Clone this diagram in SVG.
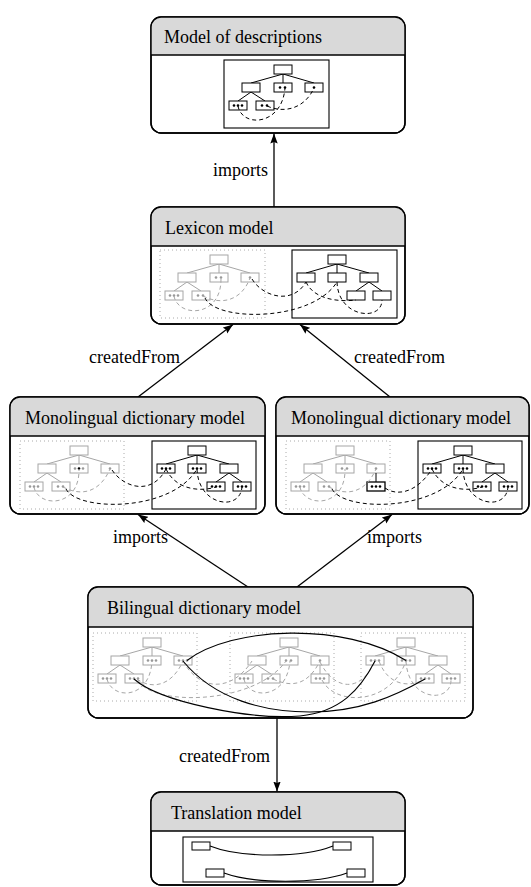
<svg xmlns="http://www.w3.org/2000/svg" xmlns:xlink="http://www.w3.org/1999/xlink" width="531" height="887" viewBox="0 0 531 887">
<style>
.nb{fill:#fff;stroke:#000;stroke-width:1.4}
.hd{fill:#d9d9d9;stroke:none}
.hl{fill:none;stroke:#000;stroke-width:1.3}
.no{fill:none;stroke:#000;stroke-width:1.4}
.ttl,.lbl{font-family:"Liberation Serif","Times New Roman",serif;font-size:18px;fill:#000}
.tg{stroke:#a6a6a6;stroke-width:1;fill:none}
.tb{stroke:#000;stroke-width:1;fill:none}
.dotbox{fill:none;stroke:#aaa;stroke-width:1;stroke-dasharray:1,3}
.solbox{fill:none;stroke:#000;stroke-width:1.1}
.gd{fill:none;stroke:#a6a6a6;stroke-width:1;stroke-dasharray:4,3}
.bd{fill:none;stroke:#000;stroke-width:1;stroke-dasharray:4,3}
.bs{fill:none;stroke:#000;stroke-width:1.1}
.dg{fill:#999}
.dk{fill:#000}
.edge{fill:none;stroke:#000;stroke-width:1.3}
</style>
<defs>
<marker id="ah" viewBox="0 0 10 8" refX="10" refY="4" markerWidth="10" markerHeight="8" markerUnits="userSpaceOnUse" orient="auto">
<path d="M0,0.3 L10,4 L0,7.7 L1.5,4 Z" fill="#000"/>
</marker>
<g id="T1">
<path d="M59,14 L27,23 M59,14 V23 M59,14 L90,23 M27,32 L14,41 M27,32 L41,41"/>
<rect x="50" y="5" width="18" height="9" fill="#fff"/>
<rect x="18" y="23" width="18" height="9" fill="#fff"/>
<rect x="50" y="23" width="18" height="9" fill="#fff"/>
<rect x="81" y="23" width="18" height="9" fill="#fff"/>
<rect x="5" y="41" width="18" height="9" fill="#fff"/>
<rect x="32" y="41" width="18" height="9" fill="#fff"/>
</g>
<g id="T2">
<path d="M45,14 L14,23 M45,14 V23 M45,14 L77,23 M77,32 L64,41 M77,32 L90,41"/>
<rect x="36" y="5" width="18" height="9" fill="#fff"/>
<rect x="5" y="23" width="18" height="9" fill="#fff"/>
<rect x="36" y="23" width="18" height="9" fill="#fff"/>
<rect x="68" y="23" width="18" height="9" fill="#fff"/>
<rect x="55" y="41" width="18" height="9" fill="#fff"/>
<rect x="81" y="41" width="18" height="9" fill="#fff"/>
</g>
</defs>

<g id="connectors">
<line class="edge" x1="274" y1="207" x2="274" y2="133.5" marker-end="url(#ah)"/>
<line class="edge" x1="138" y1="397" x2="233" y2="324.5" marker-end="url(#ah)"/>
<line class="edge" x1="390" y1="397" x2="300" y2="324.5" marker-end="url(#ah)"/>
<line class="edge" x1="248" y1="587" x2="138" y2="514.5" marker-end="url(#ah)"/>
<line class="edge" x1="297" y1="587" x2="392" y2="514.5" marker-end="url(#ah)"/>
<line class="edge" x1="277" y1="718" x2="277" y2="791.5" marker-end="url(#ah)"/>
<text class="lbl" x="268" y="176" text-anchor="end">imports</text>
<text class="lbl" x="180" y="363" text-anchor="end">createdFrom</text>
<text class="lbl" x="354" y="363">createdFrom</text>
<text class="lbl" x="168" y="543" text-anchor="end">imports</text>
<text class="lbl" x="367" y="543">imports</text>
<text class="lbl" x="270" y="762" text-anchor="end">createdFrom</text>
</g>

<g id="model-of-descriptions">
<rect class="nb" x="151" y="17" width="254" height="116" rx="10"/>
<path class="hd" d="M151,55 V27 A10,10 0 0 1 161,17 H395 A10,10 0 0 1 405,27 V55 Z"/>
<path class="hl" d="M151,55 H405"/>
<rect class="no" x="151" y="17" width="254" height="116" rx="10"/>
<text class="ttl" x="164" y="43">Model of descriptions</text>
<rect class="solbox" x="224" y="60" width="105" height="68"/>
<use xlink:href="#T1" href="#T1" x="224" y="60" class="tb"/>
<circle class="dk" cx="280" cy="87.5" r="1.3"/><circle class="dk" cx="285" cy="87.5" r="1.3"/>
<circle class="dk" cx="314" cy="87.5" r="1.3"/>
<circle class="dk" cx="234" cy="105.5" r="1.3"/><circle class="dk" cx="238" cy="105.5" r="1.3"/><circle class="dk" cx="242" cy="105.5" r="1.3"/>
<circle class="dk" cx="262" cy="105.5" r="1.3"/><circle class="dk" cx="267" cy="105.5" r="1.3"/>
<path class="bd" d="M238,106 C242,128 282,126 285,88"/>
<path class="bd" d="M267,106 C285,114 305,108 314,88"/>
</g>

<g id="lexicon-model">
<rect class="nb" x="151" y="207" width="254" height="117" rx="10"/>
<path class="hd" d="M151,246 V217 A10,10 0 0 1 161,207 H395 A10,10 0 0 1 405,217 V246 Z"/>
<path class="hl" d="M151,246 H405"/>
<rect class="no" x="151" y="207" width="254" height="117" rx="10"/>
<text class="ttl" x="165" y="234">Lexicon model</text>
<rect class="dotbox" x="160" y="250" width="105" height="68"/>
<rect class="solbox" x="292" y="250" width="105" height="68"/>
<use xlink:href="#T1" href="#T1" x="160" y="250" class="tg"/>
<use xlink:href="#T2" href="#T2" x="292" y="250" class="tb"/>
<circle class="dg" cx="216" cy="277.5" r="1.3"/><circle class="dg" cx="221" cy="277.5" r="1.3"/>
<circle class="dg" cx="250" cy="277.5" r="1.3"/>
<circle class="dg" cx="170" cy="295.5" r="1.3"/><circle class="dg" cx="174" cy="295.5" r="1.3"/><circle class="dg" cx="178" cy="295.5" r="1.3"/>
<circle class="dg" cx="198" cy="295.5" r="1.3"/><circle class="dg" cx="203" cy="295.5" r="1.3"/>
<path class="gd" d="M174,296 C178,318 222,318 221,278"/>
<path class="gd" d="M203,296 C222,306 242,300 250,278"/>
<path class="bd" d="M252,279 C262,296 292,306 306,282"/>
<path class="bd" d="M205,298 C216,322 312,322 337,282"/>
<path class="bd" d="M306,282 C314,300 340,302 356,300"/>
<path class="bd" d="M337,282 C338,318 382,322 382,300"/>
</g>

<g id="monolingual-left">
<rect class="nb" x="10" y="397" width="255" height="117" rx="10"/>
<path class="hd" d="M10,436 V407 A10,10 0 0 1 20,397 H255 A10,10 0 0 1 265,407 V436 Z"/>
<path class="hl" d="M10,436 H265"/>
<rect class="no" x="10" y="397" width="255" height="117" rx="10"/>
<text class="ttl" x="25" y="424">Monolingual dictionary model</text>
<rect class="dotbox" x="20" y="441" width="104" height="68"/>
<rect class="solbox" x="152" y="441" width="104" height="68"/>
<use xlink:href="#T1" href="#T1" x="20" y="441" class="tg"/>
<use xlink:href="#T2" href="#T2" x="152" y="441" class="tb"/>
<circle class="dg" cx="75" cy="468.5" r="1.3"/><circle class="dk" cx="79" cy="468.5" r="1.3"/><circle class="dg" cx="83" cy="468.5" r="1.3"/>
<circle class="dg" cx="110" cy="468.5" r="1.3"/>
<circle class="dg" cx="30" cy="486.5" r="1.3"/><circle class="dg" cx="34" cy="486.5" r="1.3"/><circle class="dg" cx="38" cy="486.5" r="1.3"/>
<circle class="dg" cx="58" cy="486.5" r="1.3"/><circle class="dg" cx="63" cy="486.5" r="1.3"/>
<circle class="dk" cx="162" cy="468.5" r="1.3"/><circle class="dk" cx="166" cy="468.5" r="1.3"/><circle class="dk" cx="170" cy="468.5" r="1.3"/>
<circle class="dk" cx="193" cy="468.5" r="1.3"/><circle class="dk" cx="197" cy="468.5" r="1.3"/><circle class="dk" cx="201" cy="468.5" r="1.3"/>
<circle class="dk" cx="212" cy="486.5" r="1.3"/><circle class="dk" cx="216" cy="486.5" r="1.3"/><circle class="dk" cx="220" cy="486.5" r="1.3"/>
<circle class="dk" cx="238" cy="486.5" r="1.3"/><circle class="dk" cx="242" cy="486.5" r="1.3"/><circle class="dk" cx="246" cy="486.5" r="1.3"/>
<path class="gd" d="M34,487 C38,508 80,508 79,469"/>
<path class="gd" d="M63,487 C82,497 100,492 110,469"/>
<path class="bd" d="M112,470 C124,488 152,496 166,469"/>
<path class="bd" d="M66,489 C78,512 172,512 197,469"/>
<path class="bd" d="M166,469 C176,490 200,492 216,487"/>
<path class="bd" d="M197,469 C198,506 240,512 242,487"/>
</g>

<g id="monolingual-right">
<rect class="nb" x="276" y="397" width="253" height="117" rx="10"/>
<path class="hd" d="M276,436 V407 A10,10 0 0 1 286,397 H519 A10,10 0 0 1 529,407 V436 Z"/>
<path class="hl" d="M276,436 H529"/>
<rect class="no" x="276" y="397" width="253" height="117" rx="10"/>
<text class="ttl" x="291" y="424">Monolingual dictionary model</text>
<g transform="translate(266,0)">
<rect class="dotbox" x="20" y="441" width="104" height="68"/>
<rect class="solbox" x="152" y="441" width="104" height="68"/>
<use xlink:href="#T1" href="#T1" x="20" y="441" class="tg"/>
<use xlink:href="#T2" href="#T2" x="152" y="441" class="tb"/>
<path class="tb" d="M110,473 V482"/>
<rect x="101" y="482" width="18" height="9" fill="#fff" stroke="#000" stroke-width="1.3"/>
<circle class="dk" cx="106" cy="486.5" r="1.3"/><circle class="dk" cx="110" cy="486.5" r="1.3"/><circle class="dk" cx="114" cy="486.5" r="1.3"/>
<circle class="dg" cx="76" cy="468.5" r="1.3"/><circle class="dg" cx="81" cy="468.5" r="1.3"/>
<circle class="dg" cx="110" cy="468.5" r="1.3"/>
<circle class="dg" cx="30" cy="486.5" r="1.3"/><circle class="dg" cx="34" cy="486.5" r="1.3"/><circle class="dg" cx="38" cy="486.5" r="1.3"/>
<circle class="dg" cx="58" cy="486.5" r="1.3"/><circle class="dg" cx="63" cy="486.5" r="1.3"/>
<circle class="dk" cx="162" cy="468.5" r="1.3"/><circle class="dk" cx="166" cy="468.5" r="1.3"/><circle class="dk" cx="170" cy="468.5" r="1.3"/>
<circle class="dk" cx="193" cy="468.5" r="1.3"/><circle class="dk" cx="197" cy="468.5" r="1.3"/><circle class="dk" cx="201" cy="468.5" r="1.3"/>
<circle class="dk" cx="212" cy="486.5" r="1.3"/><circle class="dk" cx="216" cy="486.5" r="1.3"/><circle class="dk" cx="220" cy="486.5" r="1.3"/>
<circle class="dk" cx="238" cy="486.5" r="1.3"/><circle class="dk" cx="242" cy="486.5" r="1.3"/><circle class="dk" cx="246" cy="486.5" r="1.3"/>
<path class="gd" d="M34,487 C38,508 80,508 79,469"/>
<path class="gd" d="M63,487 C82,497 100,492 110,469"/>
<path class="bd" d="M119,488 C130,496 150,494 166,469"/>
<path class="bd" d="M66,489 C78,512 172,512 197,469"/>
<path class="bd" d="M166,469 C176,490 200,492 216,487"/>
<path class="bd" d="M197,469 C198,506 240,512 242,487"/>
</g>
</g>

<g id="bilingual-dictionary-model">
<rect class="nb" x="88" y="587" width="385" height="131" rx="10"/>
<path class="hd" d="M88,627 V597 A10,10 0 0 1 98,587 H463 A10,10 0 0 1 473,597 V627 Z"/>
<path class="hl" d="M88,627 H473"/>
<rect class="no" x="88" y="587" width="385" height="131" rx="10"/>
<text class="ttl" x="107" y="614">Bilingual dictionary model</text>
<rect class="dotbox" x="93" y="633" width="104" height="68"/>
<rect class="dotbox" x="230" y="633" width="104" height="68"/>
<rect class="dotbox" x="361" y="633" width="104" height="68"/>
<use xlink:href="#T1" href="#T1" x="93" y="633" class="tg"/>
<use xlink:href="#T1" href="#T1" x="230" y="633" class="tg"/>
<path class="tg" d="M320,665 V674"/>
<rect x="311" y="674" width="18" height="9" fill="#fff" stroke="#a6a6a6"/>
<use xlink:href="#T2" href="#T2" x="361" y="633" class="tg"/>
<g class="dg">
<circle cx="148" cy="660.5" r="1.3"/><circle cx="152" cy="660.5" r="1.3"/><circle cx="156" cy="660.5" r="1.3"/>
<circle cx="179" cy="660.5" r="1.3"/><circle cx="183" cy="660.5" r="1.3"/><circle cx="187" cy="660.5" r="1.3"/>
<circle cx="103" cy="678.5" r="1.3"/><circle cx="107" cy="678.5" r="1.3"/><circle cx="111" cy="678.5" r="1.3"/>
<circle cx="130" cy="678.5" r="1.3"/><circle cx="134" cy="678.5" r="1.3"/><circle cx="138" cy="678.5" r="1.3"/>
<circle cx="286" cy="660.5" r="1.3"/><circle cx="291" cy="660.5" r="1.3"/>
<circle cx="320" cy="660.5" r="1.3"/>
<circle cx="240" cy="678.5" r="1.3"/><circle cx="244" cy="678.5" r="1.3"/><circle cx="248" cy="678.5" r="1.3"/>
<circle cx="268" cy="678.5" r="1.3"/><circle cx="273" cy="678.5" r="1.3"/>
<circle cx="316" cy="678.5" r="1.3"/><circle cx="320" cy="678.5" r="1.3"/><circle cx="324" cy="678.5" r="1.3"/>
<circle cx="371" cy="660.5" r="1.3"/><circle cx="375" cy="660.5" r="1.3"/><circle cx="379" cy="660.5" r="1.3"/>
<circle cx="402" cy="660.5" r="1.3"/><circle cx="406" cy="660.5" r="1.3"/><circle cx="410" cy="660.5" r="1.3"/>
<circle cx="421" cy="678.5" r="1.3"/><circle cx="425" cy="678.5" r="1.3"/><circle cx="429" cy="678.5" r="1.3"/>
<circle cx="447" cy="678.5" r="1.3"/><circle cx="451" cy="678.5" r="1.3"/><circle cx="455" cy="678.5" r="1.3"/>
</g>
<path class="gd" d="M107,679 C112,700 150,700 152,661"/>
<path class="gd" d="M137,679 C152,690 172,686 183,661"/>
<path class="gd" d="M183,661 C200,692 232,692 252,661"/>
<path class="gd" d="M138,680 C150,706 254,706 286,661"/>
<path class="gd" d="M244,679 C248,700 287,700 290,661"/>
<path class="gd" d="M273,679 C292,688 308,685 320,661"/>
<path class="gd" d="M320,662 C335,692 362,692 375,661"/>
<path class="gd" d="M322,680 C335,706 390,706 406,661"/>
<path class="gd" d="M379,661 C388,686 410,688 425,679"/>
<path class="gd" d="M406,661 C408,702 452,704 451,679"/>
<path class="bs" d="M187,660.5 C232,626 345,622 406,660.5"/>
<path class="bs" d="M183,661 C215,700 265,712 310,712 C360,712 395,696 425,679"/>
<path class="bs" d="M134,679 C160,702 250,720 300,716 C340,712 360,690 375,661"/>
</g>

<g id="translation-model">
<rect class="nb" x="151" y="792" width="254" height="93" rx="10"/>
<path class="hd" d="M151,831 V802 A10,10 0 0 1 161,792 H395 A10,10 0 0 1 405,802 V831 Z"/>
<path class="hl" d="M151,831 H405"/>
<rect class="no" x="151" y="792" width="254" height="93" rx="10"/>
<text class="ttl" x="171" y="819">Translation model</text>
<rect class="solbox" x="183" y="837" width="190" height="45"/>
<rect x="192" y="842" width="18" height="8" fill="#fff" stroke="#000"/>
<rect x="333" y="842" width="18" height="8" fill="#fff" stroke="#000"/>
<rect x="206" y="869" width="18" height="8" fill="#fff" stroke="#000"/>
<rect x="347" y="869" width="18" height="8" fill="#fff" stroke="#000"/>
<path class="bs" d="M210,846 C240,858 303,858 333,846"/>
<path class="bs" d="M224,873 C254,884 317,884 347,873"/>
</g>
</svg>
